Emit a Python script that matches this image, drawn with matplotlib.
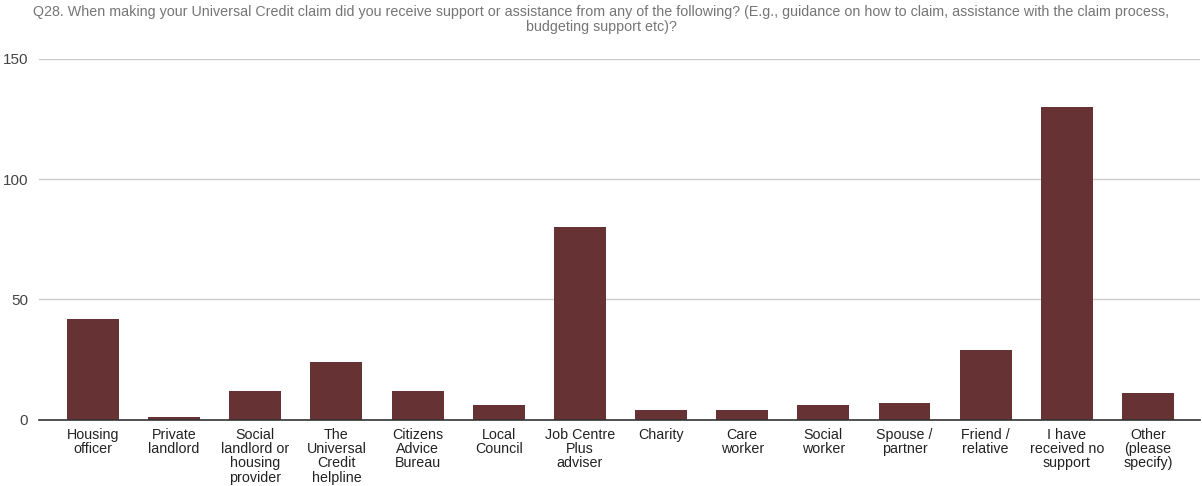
import matplotlib
matplotlib.use("Agg")
import matplotlib.pyplot as plt

categories = [
    "Housing\nofficer", "Private\nlandlord", "Social\nlandlord or\nhousing\nprovider",
    "The\nUniversal\nCredit\nhelpline", "Citizens\nAdvice\nBureau", "Local\nCouncil",
    "Job Centre\nPlus\nadviser", "Charity", "Care\nworker", "Social\nworker",
    "Spouse /\npartner", "Friend /\nrelative", "I have\nreceived no\nsupport",
    "Other\n(please\nspecify)",
]
values = [42, 1, 12, 24, 12, 6, 80, 4, 4, 6, 7, 29, 130, 11]
yticks = [0, 50, 100, 150]
title = ("Q28. When making your Universal Credit claim did you receive support or assistance from any of the following? "
         "(E.g., guidance on how to claim, assistance with the claim process,\nbudgeting support etc)?")

plt.rcParams['font.family'] = ['Liberation Sans', 'DejaVu Sans']

W, H = 1202, 486
fig = plt.figure(figsize=(W / 100, H / 100), dpi=100)
ax_left, ax_right = 39, 1200
ax = fig.add_axes([ax_left / W, 1 - 419.7 / H, (ax_right - ax_left) / W, (419.7 - 59) / H])

x = list(range(len(categories)))
ax.bar(x, values, width=0.64, color="#673234", zorder=3)

step = 81.15
first_center = 93
last_center = first_center + step * (len(categories) - 1)
ax.set_xlim((ax_left - first_center) / step, (len(categories) - 1) + (ax_right - last_center) / step)
ax.set_ylim(0, 150)
ax.set_yticks(yticks)
ax.set_yticklabels([str(t) for t in yticks], fontsize=11, color="#444444")
ax.set_xticks(x)
ax.set_xticklabels(categories, fontsize=10.3, color="#222222", linespacing=1.02, va="top")
ax.tick_params(axis="both", length=0)
ax.tick_params(axis="x", pad=6)
ax.tick_params(axis="y", pad=8)
ax.grid(axis="y", color="#cccccc", linewidth=1, zorder=0)
for s in ["top", "right", "left"]:
    ax.spines[s].set_visible(False)
ax.spines["bottom"].set_color("#333333")
ax.spines["bottom"].set_linewidth(1.2)
ax.spines["bottom"].set_zorder(4)

fig.text(0.5, 1 - 5 / H, title, ha="center", va="top", fontsize=10.3, color="#757575", linespacing=1.05)

fig.savefig("out.png", dpi=100, facecolor="white")
